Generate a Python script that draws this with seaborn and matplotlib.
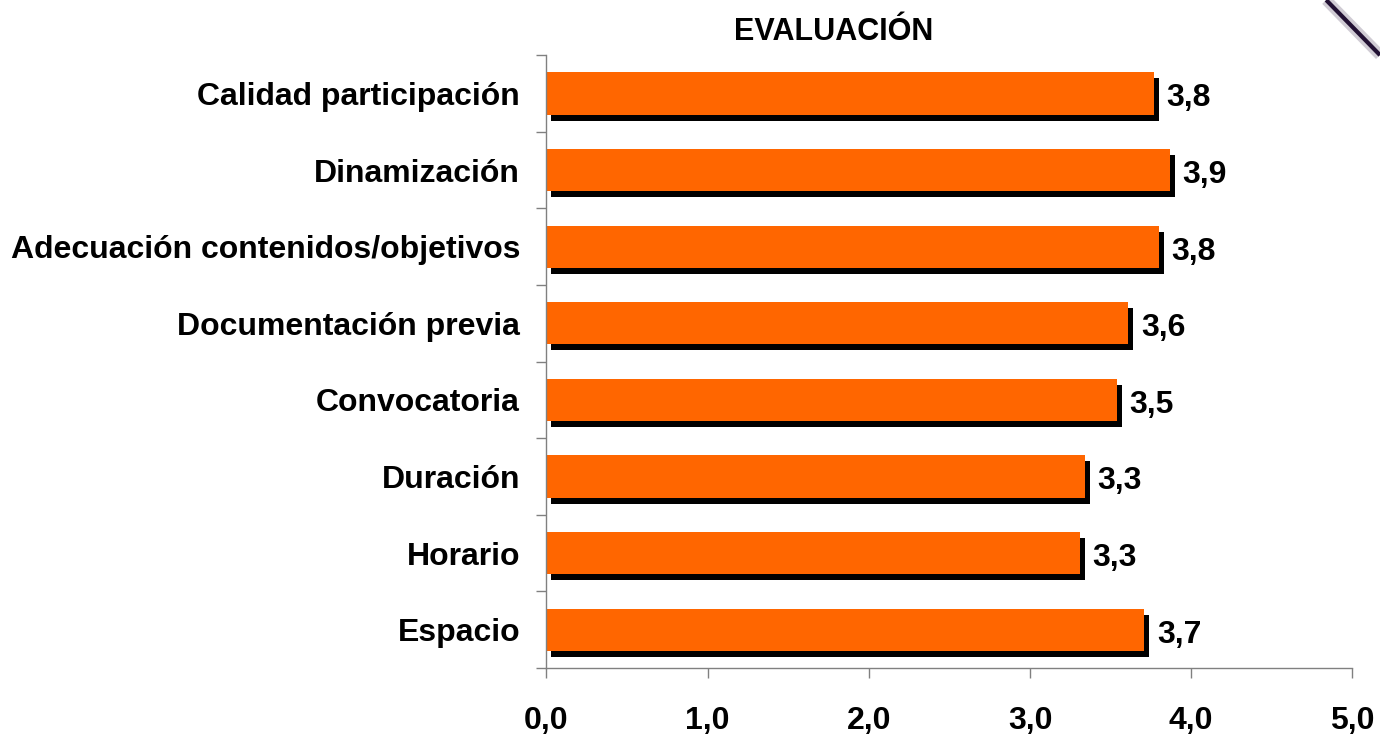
import matplotlib
matplotlib.use("Agg")
import matplotlib.pyplot as plt
import seaborn as sns
import pandas as pd
from matplotlib.transforms import ScaledTranslation
from matplotlib.lines import Line2D

categories = [
    "Calidad participación",
    "Dinamización",
    "Adecuación contenidos/objetivos",
    "Documentación previa",
    "Convocatoria",
    "Duración",
    "Horario",
    "Espacio",
]
values = [3.77, 3.87, 3.80, 3.61, 3.54, 3.34, 3.31, 3.71]
value_labels = ["3,8", "3,9", "3,8", "3,6", "3,5", "3,3", "3,3", "3,7"]
x_ticks = [0, 1, 2, 3, 4, 5]
x_tick_labels = ["0,0", "1,0", "2,0", "3,0", "4,0", "5,0"]

df = pd.DataFrame({"categoria": categories, "valor": values})

sns.set_style("white")
plt.rcParams["font.family"] = ["Liberation Sans", "DejaVu Sans"]
plt.rcParams["font.weight"] = "bold"
plt.rcParams["text.color"] = "black"
plt.rcParams["xtick.labelcolor"] = "black"
plt.rcParams["ytick.labelcolor"] = "black"

fig = plt.figure(figsize=(13.8, 7.35), dpi=100)
ax = fig.add_axes([0.396, 0.091, 0.584, 0.834])

# black shadow bars, shifted right/down a few pixels
sns.barplot(data=df, x="valor", y="categoria", color="black", width=0.55,
            saturation=1, ax=ax, orient="h", linewidth=0)
shift = ScaledTranslation(5 / 100, -6 / 100, fig.dpi_scale_trans)
for patch in list(ax.patches):
    patch.set_transform(ax.transData + shift)

sns.barplot(data=df, x="valor", y="categoria", color="#FF6600", width=0.55,
            saturation=1, ax=ax, orient="h", linewidth=0)
orange = ax.containers[-1]
labels = ax.bar_label(orange, labels=value_labels, padding=9, fontsize=23,
                      fontweight="bold", color="black")
for t in labels:
    t.xyann = (t.xyann[0], t.xyann[1] - 3.5)

ax.set_xlim(0, 5)
ax.set_ylim(7.5, -0.5)
ax.set_xticks(x_ticks)
ax.set_xticklabels(x_tick_labels, fontsize=23, fontweight="bold")
ax.set_yticks(range(len(categories)))
ax.set_yticklabels(categories, fontsize=23, fontweight="bold")
ax.set_yticks([i - 0.5 for i in range(len(categories) + 1)], minor=True)
ax.tick_params(axis="y", which="major", length=0, pad=19)
ax.tick_params(axis="y", which="minor", length=7, width=1, color="#808080", left=True)
ax.tick_params(axis="x", length=7, width=1, color="#808080", pad=20, bottom=True)
ax.set_xlabel("")
ax.set_ylabel("")

for side in ["top", "right"]:
    ax.spines[side].set_visible(False)
for side in ["left", "bottom"]:
    ax.spines[side].set_color("#808080")
    ax.spines[side].set_linewidth(1)

fig.text(0.604, 0.956, "EVALUACIÓN", ha="center", va="center", fontsize=22,
         fontweight="bold")

# decorative stroke in top-right corner
fig.add_artist(Line2D([0.961, 1.0], [1.0, 0.925], transform=fig.transFigure,
                      color="#D0CCD4", linewidth=8, solid_capstyle="butt"))
fig.add_artist(Line2D([0.961, 1.0], [1.0, 0.925], transform=fig.transFigure,
                      color="#221133", linewidth=3, solid_capstyle="butt"))

fig.savefig("out.png", dpi=100)
